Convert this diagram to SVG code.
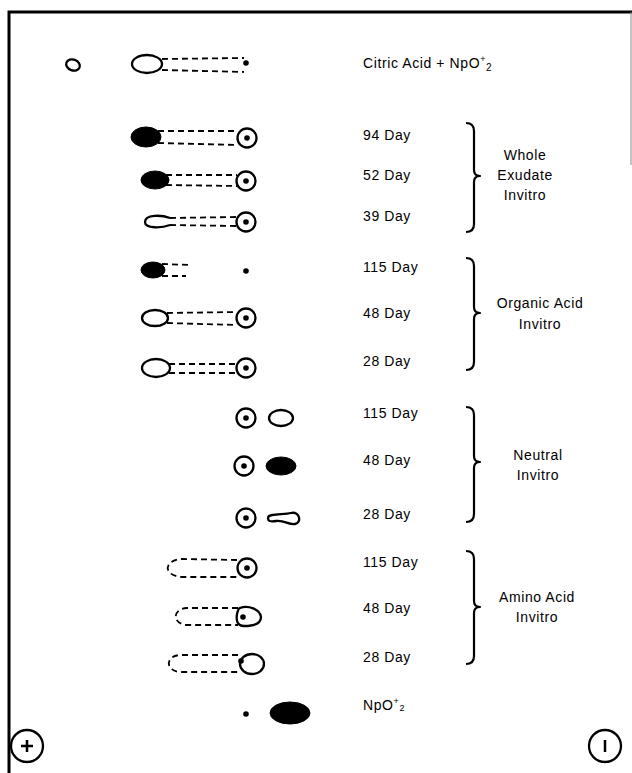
<svg xmlns="http://www.w3.org/2000/svg" xmlns:xlink="http://www.w3.org/1999/xlink" width="632" height="773" viewBox="0 0 632 773">
<style>
.s{fill:none;stroke:#000;stroke-width:2.3}
.f{fill:#000;stroke:#000;stroke-width:1}
.d{fill:none;stroke:#000;stroke-width:1.8;stroke-dasharray:6 4}
.b{fill:none;stroke:#000;stroke-width:2.2;stroke-linejoin:round}
.t{font-family:"Liberation Sans",Arial,sans-serif;font-size:14px;letter-spacing:0.6px;fill:#000}
.c{text-anchor:middle}
</style>
<defs>
<g id="o"><circle r="9.5" class="s"/><circle r="2.8" fill="#000"/></g>
</defs>
<rect width="632" height="773" fill="#fff"/>
<g id="frame">
<path d="M9,773 V12 H632" fill="none" stroke="#000" stroke-width="3"/>
<path d="M631,12 V165" stroke="#888" stroke-width="1"/>
</g>
<g id="row-citric">
<ellipse cx="73" cy="65" rx="7" ry="5.5" transform="rotate(20 73 65)" class="s"/>
<ellipse cx="147" cy="64" rx="15" ry="9" class="s"/>
<path class="d" d="M162,59 L244,58 M162,70 L244,72"/>
<circle cx="246" cy="63" r="2.8" fill="#000"/>
<text class="t" x="363" y="68">Citric Acid + NpO<tspan dy="-6" font-size="9">+</tspan><tspan dx="0" dy="9" font-size="10">2</tspan></text>
</g>
<g id="row-we-94">
<ellipse cx="146" cy="137" rx="15" ry="10" class="f"/>
<path class="d" d="M158,131 L238,131 M158,143 L238,145"/>
<use xlink:href="#o" x="247" y="138"/>
<text class="t" x="363" y="140">94 Day</text>
</g>
<g id="row-we-52">
<ellipse cx="155" cy="180" rx="14" ry="9" class="f"/>
<path class="d" d="M166,175 L237,175 M166,185 L237,186"/>
<use xlink:href="#o" x="246" y="181"/>
<text class="t" x="363" y="180">52 Day</text>
</g>
<g id="row-we-39">
<path class="s" d="M170,218 C162,215 145,214 145,222 C145,229 162,228 170,225"/>
<path class="d" d="M170,218 L237,217 M170,225 L237,226"/>
<use xlink:href="#o" x="246" y="222"/>
<text class="t" x="363" y="221">39 Day</text>
</g>
<g id="row-oa-115">
<ellipse cx="153" cy="270" rx="12" ry="8" class="f"/>
<path class="d" d="M162,264 L192,265 M162,276 L186,276"/>
<circle cx="246" cy="271" r="2.8" fill="#000"/>
<text class="t" x="363" y="272">115 Day</text>
</g>
<g id="row-oa-48">
<ellipse cx="155" cy="318" rx="13" ry="8" class="s"/>
<path class="d" d="M167,313 L237,312 M167,323 L237,325"/>
<use xlink:href="#o" x="246" y="318"/>
<text class="t" x="363" y="318">48 Day</text>
</g>
<g id="row-oa-28">
<ellipse cx="156" cy="368" rx="14" ry="9" class="s"/>
<path class="d" d="M169,364 L237,364 M169,373 L237,373"/>
<use xlink:href="#o" x="246" y="368"/>
<text class="t" x="363" y="366">28 Day</text>
</g>
<g id="row-n-115">
<use xlink:href="#o" x="246" y="418"/>
<ellipse cx="281" cy="418" rx="12" ry="8" class="s"/>
<text class="t" x="363" y="418">115 Day</text>
</g>
<g id="row-n-48">
<use xlink:href="#o" x="244" y="466"/>
<ellipse cx="281" cy="466" rx="15" ry="9" class="f"/>
<text class="t" x="363" y="465">48 Day</text>
</g>
<g id="row-n-28">
<use xlink:href="#o" x="246" y="518"/>
<path class="s" d="M268,518 C268,513 284,515 291,513 C300,511 302,523 295,524 C288,525 285,520 276,521 C270,522 268,521 268,518 Z"/>
<text class="t" x="363" y="519">28 Day</text>
</g>
<g id="row-aa-115">
<path class="d" d="M237,560 L182,559 C163,560 163,576 182,577 L237,577"/>
<use xlink:href="#o" x="247" y="568"/>
<text class="t" x="363" y="567">115 Day</text>
</g>
<g id="row-aa-48">
<path class="d" d="M238,608 L187,608 C172,609 172,624 187,625 L238,625"/>
<path class="s" d="M240,608 C248,605 260,609 261,617 C261,625 252,626 244,626 C237,626 236,620 237,614 C238,610 239,608 240,608 Z"/>
<circle cx="243" cy="617" r="2.8" fill="#000"/>
<text class="t" x="363" y="613">48 Day</text>
</g>
<g id="row-aa-28">
<path class="d" d="M238,655 L180,655 C165,656 165,671 180,672 L240,672"/>
<ellipse cx="252" cy="664" rx="12" ry="10" class="s"/>
<circle cx="241" cy="661" r="2.8" fill="#000"/>
<text class="t" x="363" y="662">28 Day</text>
</g>
<g id="row-npo2">
<circle cx="246" cy="714" r="2.8" fill="#000"/>
<ellipse cx="290" cy="713" rx="20" ry="11" class="f"/>
<text class="t" x="363" y="710">NpO<tspan dy="-6" font-size="9">+</tspan><tspan dx="0" dy="7" font-size="9">2</tspan></text>
</g>
<g id="grp-whole">
<text class="t c" x="525" y="160">Whole</text>
<text class="t c" x="525" y="180">Exudate</text>
<text class="t c" x="525" y="200">Invitro</text>
</g>
<g id="grp-organic">
<text class="t c" x="540" y="308">Organic Acid</text>
<text class="t c" x="540" y="329">Invitro</text>
</g>
<g id="grp-neutral">
<text class="t c" x="538" y="460">Neutral</text>
<text class="t c" x="538" y="480">Invitro</text>
</g>
<g id="grp-amino">
<text class="t c" x="537" y="602">Amino Acid</text>
<text class="t c" x="537" y="622">Invitro</text>
</g>
<g id="connectors">
<path class="b" d="M466,123 Q474,123 474,131 L474,170 Q474,176 480,176 Q474,176 474,182 L474,224 Q474,232 466,232"/>
<path class="b" d="M466,258 Q474,258 474,266 L474,307 Q474,313 480,313 Q474,313 474,319 L474,362 Q474,370 466,370"/>
<path class="b" d="M466,407 Q474,407 474,415 L474,456 Q474,462 480,462 Q474,462 474,468 L474,514 Q474,522 466,522"/>
<path class="b" d="M466,551 Q474,551 474,559 L474,601 Q474,607 480,607 Q474,607 474,613 L474,656 Q474,664 466,664"/>
</g>
<g id="plus">
<circle cx="27" cy="746" r="16" class="s"/>
<path d="M21,746 H33 M27,740 V752" stroke="#000" stroke-width="2.5"/>
</g>
<g id="minus">
<circle cx="605" cy="746" r="16" class="s"/>
<path d="M605,740 V752" stroke="#000" stroke-width="2.5"/>
</g>
</svg>
